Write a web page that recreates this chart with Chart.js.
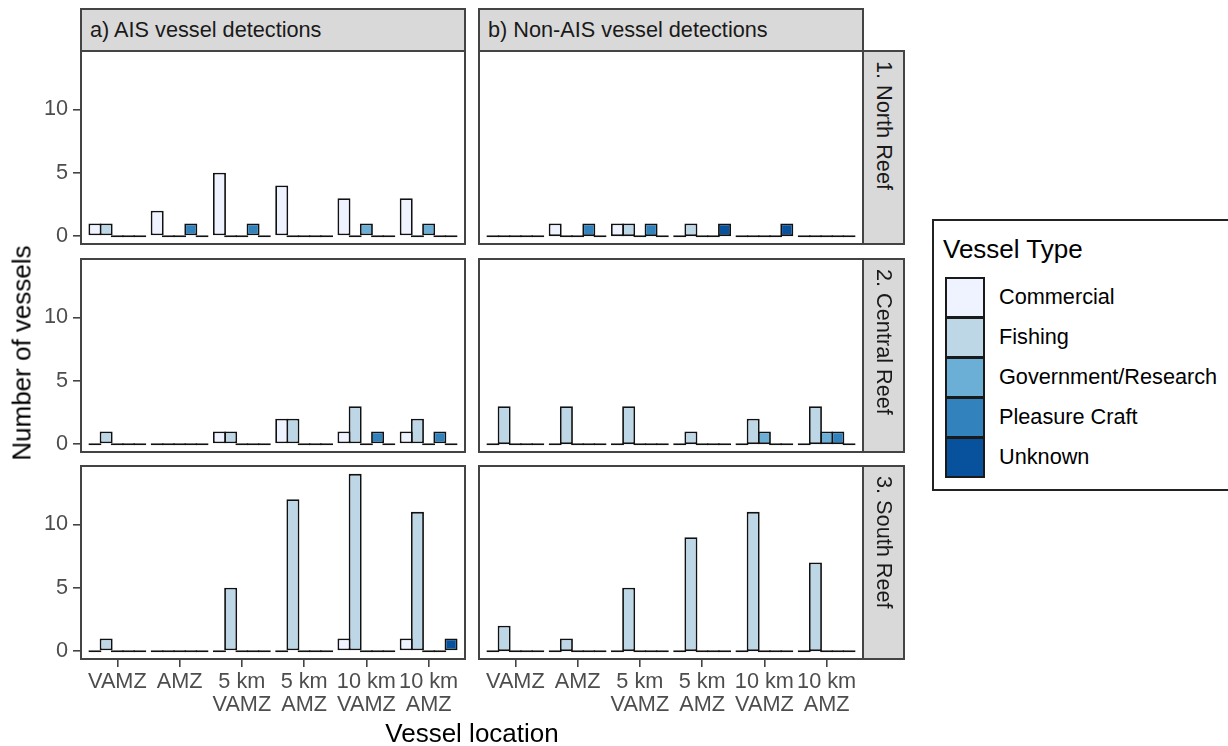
<!DOCTYPE html>
<html>
<head>
<meta charset="utf-8">
<script src="https://cdn.jsdelivr.net/npm/chart.js@4.4.1/dist/chart.umd.min.js"></script>
<style>
  body { margin: 0; background: #fff; font-family: "Liberation Sans", Arial, sans-serif; }
  #page { position: relative; width: 1228px; height: 746px; overflow: hidden; }
  .abs { position: absolute; box-sizing: border-box; }
  .frame { border: 2px solid #444; pointer-events: none; }
  .strip { background: #d9d9d9; border: 2px solid #444; color: #1a1a1a; font-size: 21.7px; }
  .strip.top { padding-left: 8px; line-height: 39px; }
  .strip.side { writing-mode: vertical-rl; padding-top: 9px; text-align: left; line-height: 38px; }
  .title { color: #000; font-size: 26px; white-space: nowrap; }
  .legend { border: 2px solid #222; }
  .key { border: 2px solid #1a1a1a; }
  .klabel { font-size: 21.7px; color: #000; white-space: nowrap; }
</style>
</head>
<body>
<div id="page"></div>
<script>
"use strict";
// categories and series
const locations = [["VAMZ"], ["AMZ"], ["5 km", "VAMZ"], ["5 km", "AMZ"], ["10 km", "VAMZ"], ["10 km", "AMZ"]];
const vesselTypes = ["Commercial", "Fishing", "Government/Research", "Pleasure Craft", "Unknown"];
const typeColours = ["#eff3ff", "#bdd7e7", "#6baed6", "#3182bd", "#08519c"];
const detections = ["a) AIS vessel detections", "b) Non-AIS vessel detections"];
const reefs = ["1. North Reef", "2. Central Reef", "3. South Reef"];
const yTicks = [0, 5, 10];

// rows = vessel type, columns = location
const aisNorth = [
  [1, 2, 5, 4, 3, 3],
  [1, 0, 0, 0, 0, 0],
  [0, 0, 0, 0, 1, 1],
  [0, 1, 1, 0, 0, 0],
  [0, 0, 0, 0, 0, 0],
];
const nonAisNorth = [
  [0, 1, 1, 0, 0, 0],
  [0, 0, 1, 1, 0, 0],
  [0, 0, 0, 0, 0, 0],
  [0, 1, 1, 0, 0, 0],
  [0, 0, 0, 1, 1, 0],
];
const aisCentral = [
  [0, 0, 1, 2, 1, 1],
  [1, 0, 1, 2, 3, 2],
  [0, 0, 0, 0, 0, 0],
  [0, 0, 0, 0, 1, 1],
  [0, 0, 0, 0, 0, 0],
];
const nonAisCentral = [
  [0, 0, 0, 0, 0, 0],
  [3, 3, 3, 1, 2, 3],
  [0, 0, 0, 0, 1, 1],
  [0, 0, 0, 0, 0, 1],
  [0, 0, 0, 0, 0, 0],
];
const aisSouth = [
  [0, 0, 0, 0, 1, 1],
  [1, 0, 5, 12, 14, 11],
  [0, 0, 0, 0, 0, 0],
  [0, 0, 0, 0, 0, 0],
  [0, 0, 0, 0, 0, 1],
];
const nonAisSouth = [
  [0, 0, 0, 0, 0, 0],
  [2, 1, 5, 9, 11, 7],
  [0, 0, 0, 0, 0, 0],
  [0, 0, 0, 0, 0, 0],
  [0, 0, 0, 0, 0, 0],
];
const panels = [
  [aisNorth, nonAisNorth],
  [aisCentral, nonAisCentral],
  [aisSouth, nonAisSouth],
];

// layout (px)
const colX = [80, 478];
const rowY = [50, 257.5, 465];
const panelW = 386;
const panelH = 195;
const FONT = "'Liberation Sans', Arial, sans-serif";

const page = document.getElementById("page");
function box(cls, css, text) {
  const d = document.createElement("div");
  d.className = "abs " + cls;
  Object.assign(d.style, css);
  if (text) d.textContent = text;
  page.appendChild(d);
  return d;
}

function makeChart(values, c, r) {
  const showY = c === 0;
  const showX = r === 2;
  const left = colX[c] - (showY ? 80 : 0);
  const w = panelW + (showY ? 80 : 0);
  const h = panelH + (showX ? 62 : 0);
  const holder = box("", { left: left + "px", top: rowY[r] + "px", width: w + "px", height: h + "px" });
  const canvas = document.createElement("canvas");
  canvas.width = w;
  canvas.height = h;
  holder.appendChild(canvas);

  const axisGrid = { offset: false, drawOnChartArea: false, drawTicks: true, tickLength: 7, color: "#444", lineWidth: 1.6 };
  new Chart(canvas, {
    type: "bar",
    data: {
      datasets: vesselTypes.map((t, k) => ({
        label: t,
        data: values[k].map((v, i) => ({ x: i + 1, y: v })),
        backgroundColor: typeColours[k],
        borderColor: "#111",
        borderWidth: 1.8,
        borderSkipped: false,
        minBarLength: 2,
        categoryPercentage: 0.9,
        barPercentage: 1.16,
      })),
    },
    options: {
      responsive: false,
      animation: false,
      devicePixelRatio: 1,
      layout: { padding: 0 },
      plugins: { legend: { display: false }, tooltip: { enabled: false } },
      scales: {
        x: {
          type: "linear",
          min: 0.4,
          max: 6.6,
          offset: false,
          display: showX,
          afterBuildTicks: (s) => { s.ticks = locations.map((l, i) => ({ value: i + 1 })); },
          afterFit: (s) => {
            s.height = showX ? 62 : 0;
            s.paddingLeft = 0;
            s.paddingRight = 0;
          },
          grid: axisGrid,
          border: { display: false },
          ticks: {
            callback: (v) => locations[v - 1],
            font: { family: FONT, size: 21.7, lineHeight: 1.08 },
            color: "#4d4d4d",
            padding: 3,
            maxRotation: 0,
            autoSkip: false,
          },
        },
        y: {
          min: -0.7,
          max: 14.7,
          display: showY,
          afterBuildTicks: (s) => { s.ticks = yTicks.map((v) => ({ value: v })); },
          afterFit: (s) => {
            s.width = showY ? 80 : 0;
            s.paddingTop = 0;
            s.paddingBottom = 0;
          },
          grid: axisGrid,
          border: { display: false },
          ticks: { font: { family: FONT, size: 21.7 }, color: "#4d4d4d", padding: 5 },
        },
      },
    },
  });
  box("frame", { left: colX[c] + "px", top: rowY[r] + "px", width: panelW + "px", height: panelH + "px" });
}

panels.forEach((row, r) => row.forEach((vals, c) => makeChart(vals, c, r)));

// facet strips
detections.forEach((t, c) =>
  box("strip top", { left: colX[c] + "px", top: "8px", width: panelW + "px", height: "44px" }, t));
reefs.forEach((t, r) =>
  box("strip side", { left: "862px", top: rowY[r] + "px", width: "43px", height: panelH + "px" }, t));

// axis titles
box("title", { left: "472px", top: "733px", transform: "translate(-50%,-50%)" }, "Vessel location");
box("title", { left: "22px", top: "353px", transform: "translate(-50%,-50%) rotate(-90deg)" }, "Number of vessels");

// legend
box("legend", { left: "932px", top: "219px", width: "305px", height: "272px" });
box("title", { left: "943px", top: "249px", transform: "translateY(-50%)" }, "Vessel Type");
vesselTypes.forEach((t, k) => {
  box("key", { left: "945px", top: 277 + 40 * k + "px", width: "40px", height: "41px", background: typeColours[k] });
  box("klabel", { left: "999px", top: 297 + 40 * k + "px", transform: "translateY(-50%)" }, t);
});
</script>
</body>
</html>
